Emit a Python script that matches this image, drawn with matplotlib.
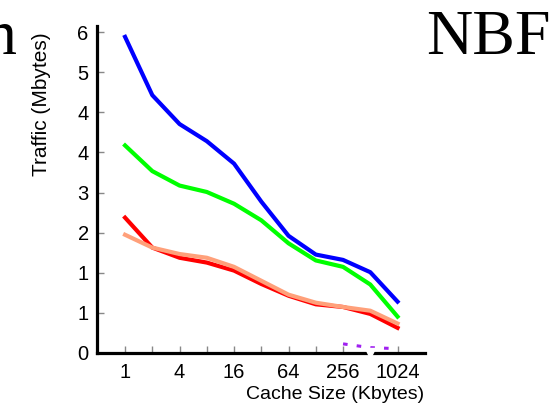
import numpy as np
import matplotlib
matplotlib.use("Agg")
import matplotlib.pyplot as plt

# cache sizes in Kbytes (powers of two)
sizes = [1, 2, 4, 8, 16, 32, 64, 128, 256, 512, 1024]

# traffic in Mbytes for each configuration
traffic_blue = [5.91, 4.82, 4.28, 3.96, 3.54, 2.83, 2.19, 1.84, 1.74, 1.51, 0.96]
traffic_green = [3.88, 3.40, 3.13, 3.01, 2.79, 2.48, 2.05, 1.73, 1.61, 1.28, 0.68]
traffic_red = [2.53, 1.97, 1.78, 1.69, 1.54, 1.29, 1.07, 0.91, 0.86, 0.73, 0.47]
traffic_salmon = [2.21, 1.97, 1.85, 1.78, 1.61, 1.35, 1.09, 0.94, 0.86, 0.79, 0.55]
sizes_purple = [256, 512, 1024]
traffic_purple = [0.17, 0.10, 0.08]

xtick_vals = [1, 2, 4, 8, 16, 32, 64, 128, 256, 1024]
xtick_labels = ["1", "", "4", "", "16", "", "64", "", "256", "1024"]
ytick_vals = [0, 0.75, 1.5, 2.25, 3, 3.75, 4.5, 5.25, 6]
ytick_labels = ["0", "1", "1", "2", "3", "4", "4", "5", "6"]

plt.rcParams["font.family"] = ["Liberation Sans", "DejaVu Sans"]

fig = plt.figure(figsize=(5.56, 4.09), dpi=100)
ax = fig.add_axes([0.1745, 0.137, 0.5895, 0.799])

ax.plot(sizes, traffic_blue, color="#0000ff", lw=3)
ax.plot(sizes, traffic_green, color="#00ff00", lw=3)
ax.plot(sizes, traffic_red, color="#ff0000", lw=3)
ax.plot(sizes, traffic_salmon, color="#ffa07a", lw=3)
ax.plot(sizes_purple, traffic_purple, color="#a020f0", lw=2.2,
        linestyle=(0, (1.5, 3)))

ax.set_xscale("log", base=2)
ax.set_xlim(0.49, 2048)
ax.set_ylim(0, 6.11)

ax.set_xticks(xtick_vals)
ax.set_xticklabels(xtick_labels)
ax.xaxis.set_minor_locator(matplotlib.ticker.NullLocator())
ax.set_yticks(ytick_vals)
ax.set_yticklabels(ytick_labels)
ax.tick_params(axis="both", direction="in", length=5, width=1, color="#888888",
               labelsize=14.5, pad=7)
ax.tick_params(axis="y", pad=6)

for side in ["top", "right"]:
    ax.spines[side].set_visible(False)
for side in ["left", "bottom"]:
    ax.spines[side].set_linewidth(2.3)
    ax.spines[side].set_color("black")

# axis break at 512
ax.plot([512], [0], marker="v", color="white", markersize=7,
        clip_on=False, zorder=5, transform=ax.get_xaxis_transform())

fig.text(0.603, 0.035, "Cache Size (Kbytes)", fontsize=14, ha="center", va="center")
fig.text(0.075, 0.745, "Traffic (Mbytes)", fontsize=15, rotation=90,
         ha="center", va="center")

# panel titles
fig.text(0.029, 0.868, "n", family=["Liberation Serif"], fontsize=46,
         ha="right", va="baseline")
fig.text(0.99, 0.868, "NBF", family=["Liberation Serif"], fontsize=46,
         ha="right", va="baseline")

fig.savefig("out.png", dpi=100, facecolor="white")
